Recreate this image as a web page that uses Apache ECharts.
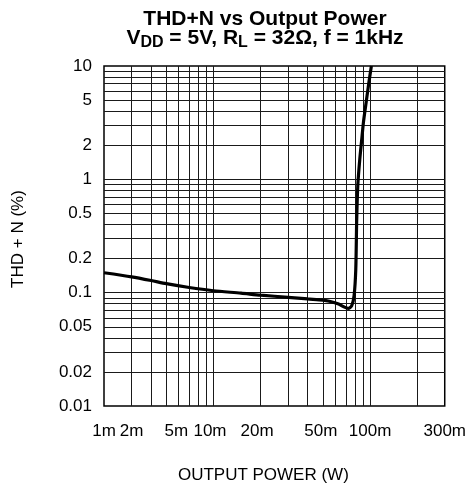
<!DOCTYPE html>
<html><head><meta charset="utf-8">
<script src="https://cdn.jsdelivr.net/npm/echarts@6/dist/echarts.min.js"></script>
<style>html,body{margin:0;padding:0;background:#fff}#c{width:469px;height:489px}</style>
</head><body><div id="c"></div>
<script>
// Output power (W) and THD+N (%)
const powerW = [0.002, 0.003, 0.004, 0.005, 0.007, 0.01, 0.015, 0.02, 0.03, 0.04, 0.05, 0.055, 0.063, 0.068, 0.0726, 0.0763, 0.0791, 0.0811, 0.0822, 0.0836, 0.086, 0.0884, 0.0908, 0.0945, 0.0984, 0.102];
const thdPct = [0.15, 0.138, 0.128, 0.12, 0.111, 0.104, 0.099, 0.095, 0.091, 0.088, 0.086, 0.084, 0.0795, 0.075, 0.0726, 0.0765, 0.094, 0.161, 0.44, 0.9, 1.5, 2.2, 3.2, 4.8, 7.2, 10];

// Axis ranges
const xMin = 0.002, xMax = 0.3;
const yMin = 0.01, yMax = 10;

// Tick labels as printed on the reference (positions where they appear)
const xTickValues = [0.002, 0.003, 0.0058, 0.0095, 0.019, 0.0485, 0.1, 0.3];
const xTickLabels = ['1m', '2m', '5m', '10m', '20m', '50m', '100m', '300m'];
const yTickValues = [10, 5, 2, 1, 0.5, 0.2, 0.1, 0.05, 0.02, 0.01];
const yTickLabels = ['10', '5', '2', '1', '0.5', '0.2', '0.1', '0.05', '0.02', '0.01'];

// Log grid lines
const xGridValues = [0.003, 0.004, 0.005, 0.006, 0.007, 0.008, 0.009, 0.01, 0.02, 0.03, 0.04, 0.05, 0.06, 0.07, 0.08, 0.09, 0.1, 0.2];
const yGridValues = [0.02, 0.03, 0.04, 0.05, 0.06, 0.07, 0.08, 0.09, 0.1, 0.2, 0.3, 0.4, 0.5, 0.6, 0.7, 0.8, 0.9, 1, 2, 3, 4, 5, 6, 7, 8, 9];

const L = Math.log10;
function labelFor(values, labels) {
  return function (v) {
    for (let i = 0; i < values.length; i++) if (Math.abs(L(values[i]) - v) < 1e-6) return labels[i];
    return '';
  };
}

const gridLines = xGridValues.map(v => ({coords: [[v, yMin], [v, yMax]]}))
  .concat(yGridValues.map(v => ({coords: [[xMin, v], [xMax, v]]})));

const chart = echarts.init(document.getElementById('c'), null, {renderer: 'canvas'});
const font = 'Liberation Sans, Arial, Helvetica, sans-serif';
chart.setOption({
  animation: false,
  backgroundColor: '#fff',
  textStyle: {fontFamily: font},
  title: {
    left: 265, top: 10, textAlign: 'center', padding: 0,
    text: '{b|THD+N vs Output Power}\n{b|V}{sub|DD}{b| = 5V, R}{sub|L}{b| = 32Ω, f = 1kHz}',
    textStyle: {
      fontFamily: font,
      rich: {
        b: {fontSize: 21, fontWeight: 'bold', color: '#000', lineHeight: 19, fontFamily: font},
        sub: {fontSize: 16, fontWeight: 'bold', color: '#000', lineHeight: 19, padding: [9, 0, 0, 0], fontFamily: font}
      }
    }
  },
  grid: {left: 104, right: 21, top: 66, bottom: 82, show: true, borderColor: '#000', borderWidth: 1.5, backgroundColor: 'transparent'},
  xAxis: [
    {type: 'log', logBase: 10, min: xMin, max: xMax, show: false, position: 'top'},
    {type: 'value', min: L(xMin), max: L(xMax), position: 'bottom',
     axisLine: {show: false}, axisTick: {show: false}, splitLine: {show: false},
     axisLabel: {customValues: xTickValues.map(L), formatter: labelFor(xTickValues, xTickLabels),
                 fontSize: 17, color: '#000', margin: 17, fontFamily: font, hideOverlap: false},
     name: 'OUTPUT POWER (W)', nameLocation: 'middle', nameGap: 61,
     nameTextStyle: {fontSize: 17, color: '#000', fontFamily: font, padding: [0, 22, 0, 0]}}
  ],
  yAxis: [
    {type: 'log', logBase: 10, min: yMin, max: yMax, show: false, position: 'right'},
    {type: 'value', min: L(yMin), max: L(yMax), position: 'left',
     axisLine: {show: false}, axisTick: {show: false}, splitLine: {show: false},
     axisLabel: {customValues: yTickValues.map(L), formatter: labelFor(yTickValues, yTickLabels),
                 fontSize: 17, color: '#000', margin: 12, fontFamily: font, hideOverlap: false},
     name: 'THD + N (%)', nameLocation: 'middle', nameRotate: 90, nameGap: 77,
     nameTextStyle: {fontSize: 17, color: '#000', fontFamily: font, padding: [0, 6, 0, 0]}}
  ],
  series: [
    {type: 'lines', coordinateSystem: 'cartesian2d', xAxisIndex: 0, yAxisIndex: 0, z: 1, silent: true,
     lineStyle: {color: '#1a1a1a', width: 1, type: 'solid', opacity: 1},
     data: gridLines},
    {type: 'line', xAxisIndex: 0, yAxisIndex: 0, z: 5, showSymbol: false, smooth: 0.25,
     lineStyle: {color: '#000', width: 3.2}, itemStyle: {color: '#000'},
     data: powerW.map((p, i) => [p, thdPct[i]])}
  ]
});
</script></body></html>
